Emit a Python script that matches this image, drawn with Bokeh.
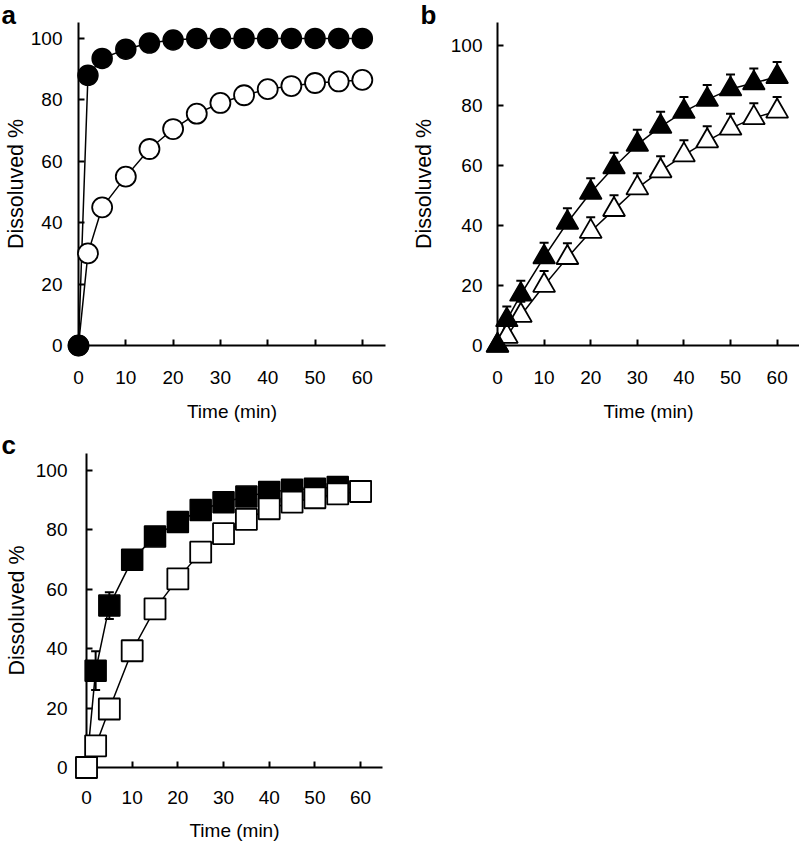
from bokeh.plotting import figure
from bokeh.models import Range1d, FixedTicker, Whisker, TeeHead, ColumnDataSource
from bokeh.core.properties import value
from bokeh.layouts import column, row
from bokeh.embed import file_html
from bokeh.resources import INLINE

# ---------------- data ----------------
time_min = [0, 2, 5, 10, 15, 20, 25, 30, 35, 40, 45, 50, 55, 60]

a_filled = [0, 88, 93.5, 96.5, 98.5, 99.5, 100, 100, 100, 100, 100, 100, 100, 100]
a_open = [0, 30, 45, 55, 64, 70.5, 75.5, 79, 81.5, 83.5, 84.5, 85.5, 86, 86.5]

b_filled = [0, 8.5, 17, 29.5, 41, 51, 59.5, 67, 73, 78, 82, 85.5, 87.5, 89.6]
b_filled_err = [0, 4.5, 4.6, 4.8, 4.8, 4.8, 4.8, 4.9, 4.9, 4.9, 4.9, 4.9, 4.9, 4.9]
b_open = [0, 3, 10, 20, 29.3, 38, 45.3, 52.5, 58.2, 63.5, 68.2, 72.4, 75.9, 78.1]
b_open_err = [0, 4.5, 4.6, 4.8, 4.8, 4.8, 4.8, 4.9, 4.9, 4.9, 4.9, 4.9, 4.9, 4.8]

c_filled = [0, 32.6, 54.5, 69.9, 77.8, 82.6, 86.7, 89.3, 91.2, 92.7, 93.5, 93.8, 94.4, 93.0]
c_filled_err = [0, 6.5, 4.5, 1, 1, 1, 1, 1, 1, 1, 1, 1, 1, 1]
c_open = [0, 7.3, 19.7, 39.3, 53.4, 63.5, 72.5, 78.7, 83.5, 87.1, 89.3, 90.8, 92.1, 92.9]

x_ticks = [0, 10, 20, 30, 40, 50, 60]
y_ticks = [0, 20, 40, 60, 80, 100]
x_title = "Time (min)"
y_title = "Dissoluved %"
panel_letters = ["a", "b", "c"]

FONT = "Liberation Sans"


def make_panel(width, height, left, right, top, bottom, x_end, y_end,
               y_std, y_lstd, x_std, x_lstd, letter, letter_dx, letter_dy):
    p = figure(width=width, height=height, output_backend="svg", toolbar_location=None,
               title=None,
               x_range=Range1d(0, x_end), y_range=Range1d(0, y_end),
               min_border_left=left, min_border_right=right,
               min_border_top=top, min_border_bottom=bottom,
               background_fill_color="white", border_fill_color="white")
    p.outline_line_color = None
    p.grid.visible = False
    fw = width - left - right
    fh = height - top - bottom

    for ax, ticks in ((p.xaxis[0], x_ticks), (p.yaxis[0], y_ticks)):
        ax.ticker = FixedTicker(ticks=ticks)
        ax.axis_line_color = "black"
        ax.axis_line_width = 2
        ax.major_tick_line_color = "black"
        ax.major_tick_line_width = 2
        ax.major_tick_in = 6
        ax.major_tick_out = 0
        ax.minor_tick_line_color = None
        ax.major_label_text_font = FONT
        ax.major_label_text_font_size = "19px"
        ax.major_label_text_color = "black"
        ax.axis_label_text_font = FONT
        ax.axis_label_text_font_style = "normal"
        ax.axis_label_text_color = "black"

    p.xaxis[0].axis_label = x_title
    p.xaxis[0].axis_label_text_font_size = "19px"
    p.xaxis[0].major_label_standoff = x_std
    p.xaxis[0].axis_label_standoff = x_lstd
    p.yaxis[0].axis_label = y_title
    p.yaxis[0].axis_label_text_font_size = "21.5px"
    p.yaxis[0].major_label_standoff = y_std
    p.yaxis[0].axis_label_standoff = y_lstd

    # panel letter, positioned by pixel offset from the frame's top-left corner
    lx = letter_dx * x_end / fw
    ly = y_end + letter_dy * y_end / fh
    p.text(x=[lx], y=[ly], text=[letter], text_font=value(FONT), text_font_size="26px",
           text_font_style="bold", text_color="black", level="overlay",
           text_align="left", text_baseline="alphabetic")
    return p


# ---- panel a ----  (frames of a and b share top/bottom borders in a row)
pa = make_panel(400, 430, 78, 15, 22, 85, 64.9, 105.2, 16, 0, 25, 14, panel_letters[0], -77, 8)
pa.line(time_min, a_filled, line_color="black", line_width=1.5, level="overlay")
pa.line(time_min, a_open, line_color="black", line_width=1.5, level="overlay")
pa.scatter(time_min, a_open, marker="circle", size=20, fill_color="white",
           line_color="black", line_width=1.8, level="overlay")
pa.scatter(time_min, a_filled, marker="circle", size=20, fill_color="black",
           line_color="black", line_width=1.5, level="overlay")

# ---- panel b ----
pb = make_panel(399, 430, 97, 0, 22, 85, 64.8, 107.7, 15, 12, 25, 14, panel_letters[1], -77, 8)
src_bf = ColumnDataSource(dict(x=time_min, y=b_filled,
                               up=[v + e for v, e in zip(b_filled, b_filled_err)]))
src_bo = ColumnDataSource(dict(x=time_min, y=b_open,
                               up=[v + e for v, e in zip(b_open, b_open_err)]))
for src in (src_bo, src_bf):
    pb.add_layout(Whisker(source=src, base="x", upper="up", lower="y", dimension="height",
                          line_color="black", line_width=2, lower_head=None,
                          upper_head=TeeHead(size=9, line_color="black", line_width=2)))
pb.line("x", "y", source=src_bo, line_color="black", line_width=1.5, level="overlay")
pb.line("x", "y", source=src_bf, line_color="black", line_width=1.5, level="overlay")
pb.scatter("x", "y", source=src_bo, marker="triangle", size=22, fill_color="white",
           line_color="black", line_width=1.8, level="overlay")
pb.scatter("x", "y", source=src_bf, marker="triangle", size=22, fill_color="black",
           line_color="black", line_width=1.5, level="overlay")

# ---- panel c ----
pc = make_panel(400, 415, 86, 18, 23, 78, 64.8, 105.7, 19, 4, 23, 13, panel_letters[2], -85, 9)
src_cf = ColumnDataSource(dict(x=time_min, y=c_filled,
                               up=[v + e for v, e in zip(c_filled, c_filled_err)],
                               lo=[v - e for v, e in zip(c_filled, c_filled_err)]))
src_co = ColumnDataSource(dict(x=time_min, y=c_open))
pc.add_layout(Whisker(source=src_cf, base="x", upper="up", lower="lo", dimension="height",
                      line_color="black", line_width=2,
                      upper_head=TeeHead(size=9, line_color="black", line_width=2),
                      lower_head=TeeHead(size=9, line_color="black", line_width=2)))
pc.line("x", "y", source=src_cf, line_color="black", line_width=1.5, level="overlay")
pc.line("x", "y", source=src_co, line_color="black", line_width=1.5, level="overlay")
pc.scatter("x", "y", source=src_cf, marker="square", size=21, fill_color="black",
           line_color="black", line_width=1.5, level="overlay")
pc.scatter("x", "y", source=src_co, marker="square", size=21, fill_color="white",
           line_color="black", line_width=1.8, level="overlay")

layout = column(row(pa, pb), pc)
open("out.html", "w").write(file_html(layout, INLINE))
